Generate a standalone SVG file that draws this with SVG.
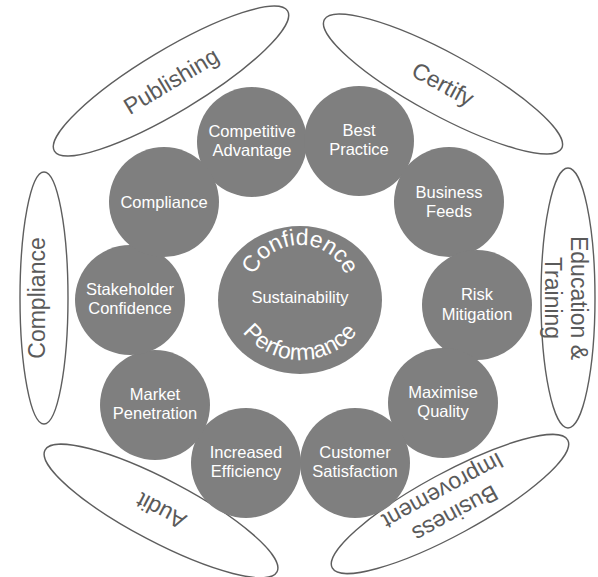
<svg xmlns="http://www.w3.org/2000/svg" width="598" height="577" viewBox="0 0 598 577">
<style>
.oval{fill:#ffffff;stroke:#5e5e5e;stroke-width:1.4}
.otext{font-family:"Liberation Sans",Arial,sans-serif;font-size:23px;fill:#5a5a5a;text-anchor:middle}
.ball{fill:#7f7f7f}
.btext{font-family:"Liberation Sans",Arial,sans-serif;font-size:16.5px;fill:#ffffff;text-anchor:middle}
.ctext{font-family:"Liberation Sans",Arial,sans-serif;font-size:23px;fill:#ffffff;text-anchor:middle}
</style>
<defs>
<path id="arcTop" d="M250,295 A50,50 0 0 1 350,295"/>
<path id="arcBottom" d="M227,287 A73,73 0 0 0 373,287"/>
</defs>
<rect width="598" height="577" fill="#ffffff"/>
<g id="connectors"/>
<g id="outer-publishing" transform="translate(171,81) rotate(-31)">
<ellipse class="oval" cx="0" cy="0" rx="136" ry="31"/>
<text class="otext" x="0" y="8">Publishing</text>
</g>
<g id="outer-certify" transform="translate(443,84) rotate(28.5)">
<ellipse class="oval" cx="0" cy="0" rx="135" ry="31"/>
<text class="otext" x="0" y="8">Certify</text>
</g>
<g id="outer-education" transform="translate(568,298) rotate(90)">
<ellipse class="oval" cx="0" cy="0" rx="130" ry="27"/>
<text class="otext" x="0" y="-3">Education &amp;</text>
<text class="otext" x="0" y="23">Training</text>
</g>
<g id="outer-business-improvement" transform="translate(450,504) rotate(151.5)">
<ellipse class="oval" cx="0" cy="0" rx="134" ry="31"/>
<text class="otext" x="0" y="-3">Business</text>
<text class="otext" x="0" y="23">Improvement</text>
</g>
<g id="outer-audit" transform="translate(161,511) rotate(207.7)">
<ellipse class="oval" cx="0" cy="0" rx="131" ry="31"/>
<text class="otext" x="0" y="8">Audit</text>
</g>
<g id="outer-compliance" transform="translate(44,298) rotate(-90)">
<ellipse class="oval" cx="0" cy="0" rx="126" ry="24"/>
<text class="otext" x="0" y="1">Compliance</text>
</g>
<g id="competitive-advantage">
<circle class="ball" cx="252" cy="142" r="55"/>
<text class="btext" x="252" y="137">Competitive</text>
<text class="btext" x="252" y="156">Advantage</text>
</g>
<g id="best-practice">
<circle class="ball" cx="359" cy="141" r="55"/>
<text class="btext" x="359" y="136">Best</text>
<text class="btext" x="359" y="155">Practice</text>
</g>
<g id="business-feeds">
<circle class="ball" cx="449" cy="202" r="55"/>
<text class="btext" x="449" y="198">Business</text>
<text class="btext" x="449" y="217">Feeds</text>
</g>
<g id="risk-mitigation">
<circle class="ball" cx="477" cy="305" r="55"/>
<text class="btext" x="477" y="300">Risk</text>
<text class="btext" x="477" y="320">Mitigation</text>
</g>
<g id="maximise-quality">
<circle class="ball" cx="443" cy="403" r="55"/>
<text class="btext" x="443" y="398">Maximise</text>
<text class="btext" x="443" y="417">Quality</text>
</g>
<g id="customer-satisfaction">
<circle class="ball" cx="355" cy="463" r="55"/>
<text class="btext" x="355" y="458">Customer</text>
<text class="btext" x="355" y="477">Satisfaction</text>
</g>
<g id="increased-efficiency">
<circle class="ball" cx="246" cy="463" r="55"/>
<text class="btext" x="246" y="458">Increased</text>
<text class="btext" x="246" y="477">Efficiency</text>
</g>
<g id="market-penetration">
<circle class="ball" cx="155" cy="405" r="55"/>
<text class="btext" x="155" y="400">Market</text>
<text class="btext" x="155" y="419">Penetration</text>
</g>
<g id="stakeholder-confidence">
<circle class="ball" cx="130" cy="300" r="55"/>
<text class="btext" x="130" y="295">Stakeholder</text>
<text class="btext" x="130" y="314">Confidence</text>
</g>
<g id="compliance">
<circle class="ball" cx="164" cy="202" r="55"/>
<text class="btext" x="164" y="208">Compliance</text>
</g>
<g id="center">
<ellipse class="ball" cx="300" cy="300" rx="82" ry="74"/>
<text class="ctext"><textPath href="#arcTop" startOffset="50%">Confidence</textPath></text>
<text class="ctext" font-size="24"><textPath href="#arcBottom" startOffset="50%">Performance</textPath></text>
<text class="btext" x="300" y="303" font-size="16">Sustainability</text>
</g>
</svg>
